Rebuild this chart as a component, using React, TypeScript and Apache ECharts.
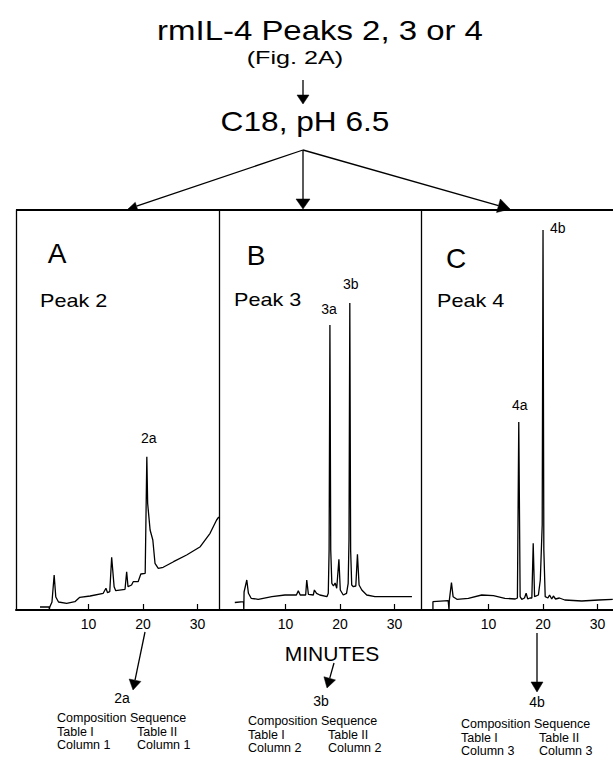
import React, { useEffect, useRef } from 'react';
import * as echarts from 'echarts';

const FONT = '"Liberation Sans", Arial, Helvetica, sans-serif';

// ---- Data: retention time (minutes) and detector response (arbitrary units) ----
const timeA = [1.1, 2.8, 2.8, 2.9, 3.3, 3.7, 4.0, 4.5, 6.0, 7.5, 8.4, 10.3, 12.7, 13.2, 13.5, 13.9, 14.25, 14.7, 15.0, 16.7, 17.0, 17.25, 17.9, 18.2, 19.1, 19.6, 20.4, 20.7, 20.85, 21.3, 21.8, 22.2, 22.8, 23.7, 25.6, 28.0, 30.5, 32.3, 33.5, 33.9];
const signalA = [3, 3, 0, 3, 8, 35, 13, 8, 6.7, 8.3, 12.7, 14, 16.7, 21.7, 17.3, 18.3, 52.7, 23.3, 19.3, 20.7, 38.3, 23.3, 25, 28.3, 28.3, 36, 36.7, 153.3, 106.7, 80, 70, 46.7, 41.7, 42.7, 48.3, 55, 63.3, 76.7, 90, 93];

const timeB = [0.7, 2.3, 2.35, 2.4, 2.9, 3.2, 3.7, 5.0, 7.5, 9.9, 12.0, 12.35, 12.7, 13.7, 13.9, 14.2, 15.1, 15.3, 15.7, 16.3, 17.6, 17.85, 18.0, 18.15, 18.3, 18.5, 18.8, 19.1, 19.4, 19.8, 20.05, 20.6, 21.2, 21.5, 21.65, 21.8, 21.95, 22.15, 22.45, 22.9, 23.2, 23.5, 24.0, 24.9, 26.4, 30.1, 33.2];
const signalB = [7.5, 8.3, 0, 18, 30, 16.7, 11.7, 10.7, 13.3, 15, 15, 19.3, 15, 15, 30, 15.7, 15, 20, 16.7, 15, 13.3, 16.7, 60, 285, 60, 26.7, 24, 27, 21.7, 50.7, 20, 15, 16.7, 26.7, 70, 307, 60, 25, 23.3, 24, 55.7, 25, 20, 15, 13.3, 13.3, 13.3];

const timeC = [-0.2, -0.2, 2.6, 2.75, 2.8, 3.2, 3.5, 4.2, 6.3, 8.75, 10.9, 13.0, 14.9, 15.3, 15.55, 15.8, 16.1, 16.6, 16.9, 17.2, 17.6, 17.95, 18.2, 18.45, 19.15, 19.5, 19.85, 20.0, 20.15, 20.4, 20.9, 21.2, 21.6, 21.9, 22.3, 23.0, 24.0, 27.1, 30.2, 32.8];
const signalC = [0, 8.3, 9.3, 0, 9.3, 27.3, 13.3, 10.7, 11.7, 15, 14.3, 11.7, 11, 12, 188, 13.3, 10.7, 12, 16.7, 11, 12, 12, 66.7, 13.3, 15, 30, 85, 380, 60, 13.3, 12, 15, 11, 14, 11, 12, 10, 9, 10, 10.7];

const peakNamesA = ['2a'];
const peakTimesA = [20.7];
const peakNamesB = ['3a', '3b'];
const peakTimesB = [18.15, 21.8];
const peakNamesC = ['4a', '4b'];
const peakTimesC = [15.55, 20.0];

const tickMinutes = [10, 20, 30];
const panelLetters = ['A', 'B', 'C'];
const panelPeakTitles = ['Peak 2', 'Peak 3', 'Peak 4'];
const collectedPeaks = ['2a', '3b', '4b'];
const compositionColumns = ['Column 1', 'Column 2', 'Column 3'];

const titleText = 'rmIL-4 Peaks 2, 3 or 4';
const subTitleText = '(Fig. 2A)';
const columnText = 'C18, pH 6.5';
const axisTitle = 'MINUTES';

// ---- Layout ----
const panels = [
  { left: 16, width: 203, min: -3.3, max: 33.94 },
  { left: 219, width: 202, min: -2.2, max: 34.86 },
  { left: 421, width: 192, min: -2.39, max: 32.84 },
];
const GRID_TOP = 210;
const GRID_H = 400;

const labelPlacement: Record<string, any> = {
  '2a': { position: 'top', distance: 12, offset: [2, 0] },
  '3a': { position: 'top', distance: 9, offset: [-1, 0] },
  '3b': { position: 'top', distance: 12, offset: [1, 0] },
  '4a': { position: 'top', distance: 10, offset: [1, 0] },
  '4b': { position: 'right', distance: 7, offset: [0, -2] },
};

const panelTextPos = [
  { letter: [57, 253], peak: [40, 301] },
  { letter: [256, 255], peak: [234, 300] },
  { letter: [456, 258], peak: [437, 301] },
];

const bottomBlocks = [
  { arrow: [145, 632, 133, 690], label: [122, 698], x1: 57, x2: 137, y: 718 },
  { arrow: [334, 663, 327, 688], label: [321, 701], x1: 248, x2: 328, y: 721 },
  { arrow: [537, 633, 537, 692], label: [537, 702], x1: 461, x2: 539, y: 724 },
];
const LINE_GAP = 13.5;

function txt(text: string, x: number, y: number, size: number, opts: any = {}) {
  return {
    type: 'text',
    x,
    y,
    scaleX: opts.scaleX ?? 1,
    silent: true,
    style: {
      text,
      fontSize: size,
      fontFamily: FONT,
      fill: '#000',
      textAlign: opts.align ?? 'center',
      verticalAlign: 'middle',
      textVerticalAlign: 'middle',
    },
  };
}

function arrow(x1: number, y1: number, x2: number, y2: number, len = 10, hw = 6, w = 1.3) {
  const dx = x2 - x1;
  const dy = y2 - y1;
  const d = Math.hypot(dx, dy);
  const ux = dx / d;
  const uy = dy / d;
  const bx = x2 - ux * len;
  const by = y2 - uy * len;
  const nx = -uy;
  const ny = ux;
  return [
    { type: 'line', silent: true, shape: { x1, y1, x2: bx, y2: by }, style: { stroke: '#000', lineWidth: w } },
    {
      type: 'polygon',
      silent: true,
      shape: { points: [[x2, y2], [bx + nx * hw, by + ny * hw], [bx - nx * hw, by - ny * hw]] },
      style: { fill: '#000', stroke: '#000', lineWidth: 0.5 },
    },
  ];
}

export default function App() {
  const ref = useRef<HTMLDivElement>(null);

  useEffect(() => {
    if (!ref.current) return;
    const chart = echarts.init(ref.current, null, { renderer: 'svg' });

    const traces = [
      { t: timeA, s: signalA, names: peakNamesA, times: peakTimesA },
      { t: timeB, s: signalB, names: peakNamesB, times: peakTimesB },
      { t: timeC, s: signalC, names: peakNamesC, times: peakTimesC },
    ];

    const grid = panels.map((p) => ({ left: p.left, width: p.width, top: GRID_TOP, height: GRID_H, containLabel: false }));

    const xAxis = panels.map((p, i) => ({
      gridIndex: i,
      type: 'value',
      min: p.min,
      max: p.max,
      axisLine: { show: true, onZero: false, lineStyle: { color: '#000', width: 2 } },
      axisTick: { show: true, inside: true, length: 6, customValues: tickMinutes, lineStyle: { color: '#000', width: 1.2 } },
      axisLabel: {
        show: true,
        customValues: tickMinutes,
        color: '#000',
        fontSize: 14,
        fontFamily: FONT,
        margin: 7,
        formatter: (v: number) => (tickMinutes.indexOf(v) >= 0 ? String(v) : ''),
      },
      splitLine: { show: false },
    }));

    const yAxis = panels.map((_, i) => ({
      gridIndex: i,
      type: 'value',
      min: 0,
      max: GRID_H,
      axisLine: { show: true, onZero: false, lineStyle: { color: '#000', width: 1.3 } },
      axisTick: { show: false },
      axisLabel: { show: false },
      splitLine: { show: false },
    }));

    const series: any[] = [];
    traces.forEach((tr, i) => {
      series.push({
        type: 'line',
        xAxisIndex: i,
        yAxisIndex: i,
        data: tr.t.map((x, k) => [x, tr.s[k]]),
        showSymbol: false,
        symbol: 'none',
        silent: true,
        lineStyle: { color: '#000', width: 1.3 },
      });
      series.push({
        type: 'scatter',
        xAxisIndex: i,
        yAxisIndex: i,
        symbolSize: 0,
        silent: true,
        itemStyle: { color: '#000' },
        label: { show: true, color: '#000', opacity: 1, fontSize: 14, fontFamily: FONT },
        data: tr.names.map((name, k) => {
          const idx = tr.t.indexOf(tr.times[k]);
          const pl = labelPlacement[name];
          return {
            name,
            value: [tr.times[k], tr.s[idx]],
            label: {
              show: true,
              formatter: name,
              position: pl.position,
              distance: pl.distance,
              offset: pl.offset,
              color: '#000',
              opacity: 1,
              fontSize: 14,
              fontFamily: FONT,
            },
          };
        }),
      });
    });

    const graphics: any[] = [];
    graphics.push(txt(titleText, 320, 31, 27, { scaleX: 1.22 }));
    graphics.push(txt(subTitleText, 295, 58, 18, { scaleX: 1.4 }));
    graphics.push(...arrow(303, 80, 303, 104, 9, 6));
    graphics.push(txt(columnText, 305, 121, 28, { scaleX: 1.13 }));
    graphics.push(...arrow(303, 150, 128, 209, 9, 4, 1.3));
    graphics.push(...arrow(303, 150, 303, 209, 10, 7, 1.3));
    graphics.push(...arrow(303, 150, 510, 209, 12, 7, 1.3));
    graphics.push({ type: 'line', silent: true, shape: { x1: 16, y1: GRID_TOP, x2: 613, y2: GRID_TOP }, style: { stroke: '#000', lineWidth: 2 } });

    panelTextPos.forEach((p, i) => {
      graphics.push(txt(panelLetters[i], p.letter[0], p.letter[1], 28));
      graphics.push(txt(panelPeakTitles[i], p.peak[0], p.peak[1], 18, { align: 'left', scaleX: 1.2 }));
    });

    graphics.push(txt(axisTitle, 332, 653, 21));

    bottomBlocks.forEach((b, i) => {
      graphics.push(...arrow(b.arrow[0], b.arrow[1], b.arrow[2], b.arrow[3], 10, 6));
      graphics.push(txt(collectedPeaks[i], b.label[0], b.label[1], 14));
      graphics.push(txt('Composition Sequence', b.x1, b.y, 12.5, { align: 'left' }));
      graphics.push(txt('Table I', b.x1, b.y + LINE_GAP, 12.5, { align: 'left' }));
      graphics.push(txt('Table II', b.x2, b.y + LINE_GAP, 12.5, { align: 'left' }));
      graphics.push(txt(compositionColumns[i], b.x1, b.y + 2 * LINE_GAP, 12.5, { align: 'left' }));
      graphics.push(txt(compositionColumns[i], b.x2, b.y + 2 * LINE_GAP, 12.5, { align: 'left' }));
    });

    chart.setOption({
      animation: false,
      backgroundColor: '#fff',
      grid,
      xAxis,
      yAxis,
      series,
      graphic: { elements: graphics },
    });

    return () => chart.dispose();
  }, []);

  return (
    <div
      ref={ref}
      style={{ position: 'absolute', left: 0, top: 0, width: 613, height: 760, background: '#fff' }}
    />
  );
}
